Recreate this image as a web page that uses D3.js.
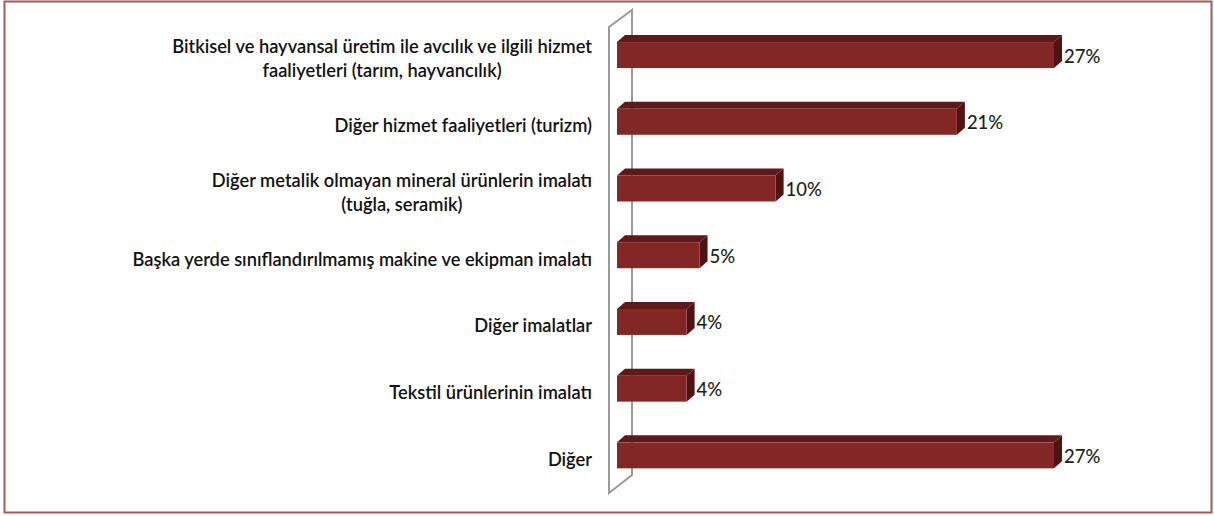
<!DOCTYPE html>
<html><head><meta charset="utf-8">
<script src="https://cdn.jsdelivr.net/npm/d3@7"></script>
<style>body{margin:0;background:#fff}svg{display:block}</style>
</head><body>
<svg id="c" width="1214" height="516"></svg>
<script>
// ---- data ----
const categories = [
  ["Bitkisel ve hayvansal üretim ile avcılık ve ilgili hizmet", "faaliyetleri (tarım, hayvancılık)"],
  ["Diğer hizmet faaliyetleri (turizm)"],
  ["Diğer metalik olmayan mineral ürünlerin imalatı", "(tuğla, seramik)"],
  ["Başka yerde sınıflandırılmamış makine ve ekipman imalatı"],
  ["Diğer imalatlar"],
  ["Tekstil ürünlerinin imalatı"],
  ["Diğer"]
];
const values = [27.0, 21.0, 9.8, 5.1, 4.3, 4.3, 27.0];
const valueLabels = ["27%", "21%", "10%", "5%", "4%", "4%", "27%"];

// ---- layout ----
const svg = d3.select("#c");
const font = "Lato, 'Open Sans', sans-serif";
const keys = categories.map((c, i) => "c" + i);

svg.append("rect").attr("x", 4.5).attr("y", 1.5).attr("width", 1207).attr("height", 511)
  .attr("fill", "#fff").attr("stroke", "#a05c58").attr("stroke-width", 2);

const x = d3.scaleLinear().domain([0, d3.max(values)]).range([617, 1054]);
const y = d3.scalePoint().domain(keys).range([21.7, 488.7]).padding(0.5);

const dx = 8, dy = 7, h = 26;

// back wall
const wall = [[609, 27], [632, 10], [632, 475], [609, 493]];
svg.append("polygon").attr("points", wall.map(p => p.join(",")).join(" "))
  .attr("fill", "#fff").attr("stroke", "#9a9a9a").attr("stroke-width", 2);

const g = svg.append("g");
values.forEach((v, i) => {
  const c = y(keys[i]);
  const x0 = x(0), x1 = x(v);
  const t = c - h / 2, b = c + h / 2;
  const bg = g.append("g");
  bg.append("polygon")
    .attr("points", [[x0, t], [x0 + dx, t - dy], [x1 + dx, t - dy], [x1, t]].map(p => p.join(",")).join(" "))
    .attr("fill", "#5e1a1a");
  bg.append("polygon")
    .attr("points", [[x1, t], [x1 + dx, t - dy], [x1 + dx, b - dy], [x1, b]].map(p => p.join(",")).join(" "))
    .attr("fill", "#4e1414");
  bg.append("rect").attr("x", x0).attr("y", t).attr("width", x1 - x0).attr("height", h)
    .attr("fill", "#822626");
  g.append("text").attr("x", x1 + dx + 2).attr("y", c + 1).attr("dy", "0.35em")
    .attr("font-family", font).attr("font-size", 18.5).attr("font-weight", 500)
    .attr("fill", "#1e1e1e").text(valueLabels[i]);
});

// category labels
const lab = svg.append("g").attr("font-family", font).attr("font-weight", 600).attr("fill", "#111");
let fs = 16;
// fit widest label width to reference (~460px)
const probe = lab.append("text").attr("font-size", fs).text(categories[3][0]);
const w = probe.node().getComputedTextLength();
fs = fs * 460 / w;
probe.remove();
lab.attr("font-size", fs);
const rightX = 592, lineH = 24;
categories.forEach((lines, i) => {
  const c = y(keys[i]) + 4;
  if (lines.length === 1) {
    lab.append("text").attr("x", rightX).attr("y", c).attr("dy", "0.35em")
      .attr("text-anchor", "end").text(lines[0]);
  } else {
    const t1 = lab.append("text").attr("x", rightX).attr("y", c - lineH / 2).attr("dy", "0.35em")
      .attr("text-anchor", "end").text(lines[0]);
    const w1 = t1.node().getComputedTextLength();
    lab.append("text").attr("x", rightX - w1 / 2).attr("y", c + lineH / 2).attr("dy", "0.35em")
      .attr("text-anchor", "middle").text(lines[1]);
  }
});
</script>
</body></html>
